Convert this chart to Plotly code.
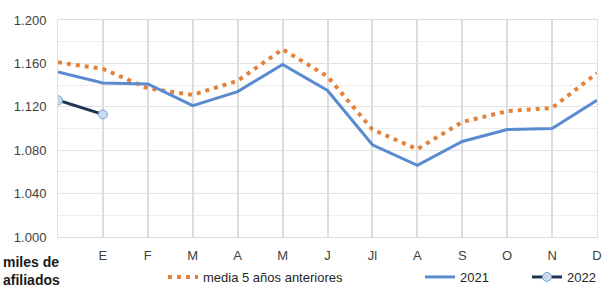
import plotly.graph_objects as go

x_pos = list(range(13))
tick_labels = ["", "E", "F", "M", "A", "M", "J", "Jl", "A", "S", "O", "N", "D"]
media_5 = [1161, 1155, 1137, 1131, 1144, 1173, 1148, 1099, 1081, 1106, 1116, 1119, 1151]
y2021 = [1152, 1142, 1141, 1121, 1134, 1159, 1135, 1085, 1066, 1088, 1099, 1100, 1126]
y2022 = [1126, 1113]

W, H = 611, 289
ML, MR, MT, MB = 58, 14, 20, 52
PW = W - ML - MR
PH = H - MT - MB

def cx(p):
    return p / W

def cy(p):
    return (H - p) / H

def px_x(p):
    return (p - ML) / PW

def px_y(p):
    return (H - MB - p) / PH

font = "Liberation Sans, Arial, sans-serif"

fig = go.Figure()
fig.add_trace(go.Scatter(
    x=x_pos, y=media_5, mode="lines", name="media 5 años anteriores",
    line=dict(color="#E5823A", width=4, dash="4px,5px"), legend="legend"))
fig.add_trace(go.Scatter(
    x=x_pos, y=y2021, mode="lines", name="2021",
    line=dict(color="#5A8BD0", width=3), legend="legend2"))
fig.add_trace(go.Scatter(
    x=x_pos[:len(y2022)], y=y2022, mode="lines+markers", name="2022",
    line=dict(color="#1F3353", width=3),
    marker=dict(symbol="circle", size=9, color="#C9DAF0",
                line=dict(color="#7FA2D0", width=1)),
    legend="legend3"))

legend_common = dict(orientation="h", yanchor="middle", xanchor="left",
                     xref="container", yref="container",
                     bgcolor="rgba(0,0,0,0)", font=dict(family=font, size=13, color="#262626"))

fig.update_layout(
    width=W, height=H,
    margin=dict(l=ML, r=MR, t=MT, b=MB, autoexpand=False),
    paper_bgcolor="white", plot_bgcolor="white",
    showlegend=True,
    separators=",.",
    font=dict(family=font, size=13, color="#404040"),
    legend=dict(x=cx(163), y=cy(277), **legend_common),
    legend2=dict(x=cx(420), y=cy(277), **legend_common),
    legend3=dict(x=cx(527), y=cy(277), **legend_common),
    xaxis=dict(range=[0, 12], tickmode="array", tickvals=x_pos, ticktext=tick_labels,
               showgrid=True, gridcolor="#DCDCDC", gridwidth=1.5, automargin=False,
               showline=True, linecolor="#DCDCDC", mirror=True, zeroline=False,
               ticks="outside", ticklen=6, tickcolor="rgba(0,0,0,0)",
               tickfont=dict(family=font, size=13, color="#404040")),
    yaxis=dict(range=[1000, 1200], dtick=40, tick0=1000, tickformat=",.0f", automargin=False,
               showgrid=True, gridcolor="#E2E2E2", gridwidth=1,
               minor=dict(dtick=20, showgrid=True, gridcolor="#EEEEEE"),
               showline=True, linecolor="#E2E2E2", mirror=True, zeroline=False,
               ticks="outside", ticklen=8, tickcolor="rgba(0,0,0,0)",
               tickfont=dict(family=font, size=13, color="#404040")),
    annotations=[dict(text="<b>miles de<br>afiliados</b>", xref="paper", yref="paper",
                      x=px_x(1), y=px_y(271), xanchor="left", yanchor="middle",
                      align="left", showarrow=False,
                      font=dict(family=font, size=14, color="#1A1A1A"))],
)

fig.write_html("out.html", config={"displayModeBar": False},
               post_script="document.body.style.margin='0';document.body.style.padding='0';")
